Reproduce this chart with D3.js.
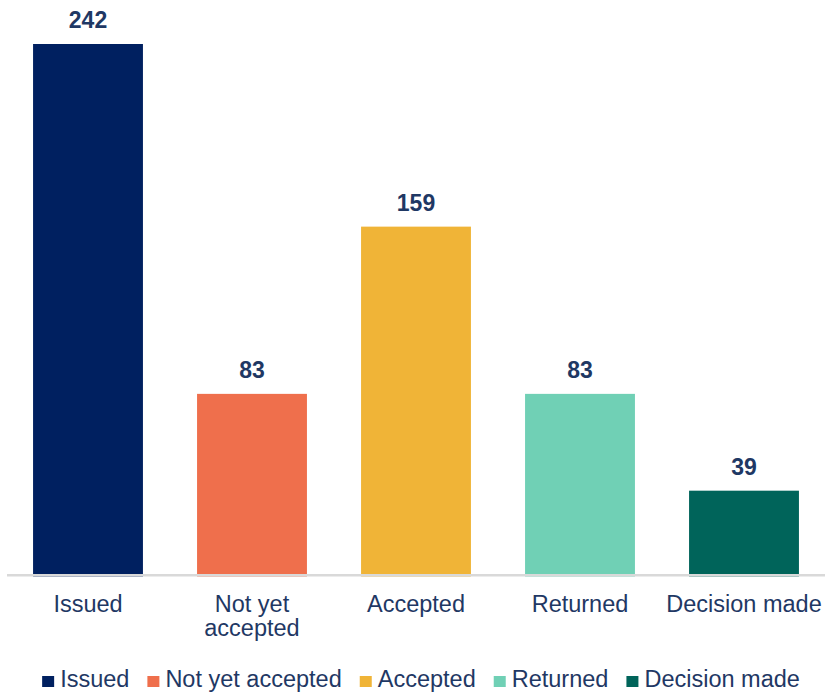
<!DOCTYPE html>
<html>
<head>
<meta charset="utf-8">
<script src="https://cdn.jsdelivr.net/npm/d3@7"></script>
<style>
    body { margin: 0; background: #fff; }
    text { font-family: "Liberation Sans", Arial, sans-serif; }
</style>
</head>
<body>
<div id="chart"></div>
<script>
const categories = ['Issued', 'Not yet accepted', 'Accepted', 'Returned', 'Decision made'];
const values = [242, 83, 159, 83, 39];
const colors = ['#002060', '#EF6F4C', '#F0B437', '#70D0B5', '#00645A'];

const width = 825;
const height = 693;
const textColor = '#1F3864';

const svg = d3.select('#chart')
    .append('svg')
    .attr('width', width)
    .attr('height', height);

const x = d3.scaleBand()
    .domain(categories)
    .range([6, 826])
    .paddingInner(0.33)
    .paddingOuter(0.165);

const y = d3.scaleLinear()
    .domain([0, 242])
    .range([576.5, 44]);

// bars
svg.selectAll('rect.bar')
    .data(categories)
    .enter()
    .append('rect')
    .attr('class', 'bar')
    .attr('x', d => x(d))
    .attr('y', (d, i) => y(values[i]))
    .attr('width', x.bandwidth())
    .attr('height', (d, i) => y(0) - y(values[i]))
    .attr('fill', (d, i) => colors[i]);

// value labels
svg.selectAll('text.value')
    .data(categories)
    .enter()
    .append('text')
    .attr('class', 'value')
    .attr('x', d => x(d) + x.bandwidth() / 2)
    .attr('y', (d, i) => y(values[i]) - 16)
    .attr('text-anchor', 'middle')
    .attr('font-size', '23px')
    .attr('font-weight', 'bold')
    .attr('fill', textColor)
    .text((d, i) => values[i]);

// x axis line
svg.append('line')
    .attr('x1', 7)
    .attr('x2', width)
    .attr('y1', 575.3)
    .attr('y2', 575.3)
    .attr('stroke', '#D9D9D9')
    .attr('stroke-width', 2.5);

// category labels, wrapped to band step
const labels = svg.selectAll('text.cat')
    .data(categories)
    .enter()
    .append('text')
    .attr('class', 'cat')
    .attr('text-anchor', 'middle')
    .attr('font-size', '23.5px')
    .attr('fill', textColor)
    .attr('y', 612);

labels.each(function(d) {
    const el = d3.select(this);
    const cx = x(d) + x.bandwidth() / 2;
    const words = d.split(' ');
    let line = [];
    let tspan = el.append('tspan').attr('x', cx).attr('dy', 0);
    words.forEach(w => {
        line.push(w);
        tspan.text(line.join(' '));
        if (tspan.node().getComputedTextLength() > x.step() && line.length > 1) {
            line.pop();
            tspan.text(line.join(' '));
            line = [w];
            tspan = el.append('tspan').attr('x', cx).attr('dy', 24).text(w);
        }
    });
});

// legend
const legend = svg.append('g').attr('class', 'legend');
let lx = 0;
categories.forEach((c, i) => {
    const item = legend.append('g').attr('transform', `translate(${lx}, 0)`);
    item.append('rect')
        .attr('x', 0)
        .attr('y', -11)
        .attr('width', 12)
        .attr('height', 11)
        .attr('fill', colors[i]);
    const t = item.append('text')
        .attr('x', 18)
        .attr('y', 0)
        .attr('font-size', '23.5px')
        .attr('fill', textColor)
        .text(c);
    lx += 18 + t.node().getComputedTextLength() + 18;
});
const legendWidth = lx - 18;
legend.attr('transform', `translate(${421 - legendWidth / 2}, 687)`);
</script>
</body>
</html>
